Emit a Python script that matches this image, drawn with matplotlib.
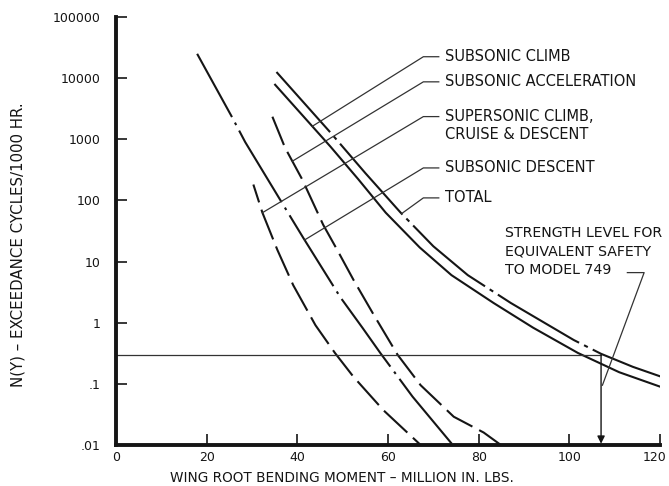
import matplotlib
matplotlib.use("Agg")
import matplotlib.pyplot as plt
import matplotlib.transforms as mtransforms
from matplotlib.ticker import NullLocator
import numpy as np

plt.rcParams['font.family'] = ['DejaVu Sans']
plt.rcParams['lines.scale_dashes'] = False

# ---------------- data ----------------
# Subsonic descent (dash-dot)
desc_x = [17.9, 25.6, 28.5, 38.9, 41.3, 49.5, 54.4, 58.3, 65.4, 74.3]
desc_y = [25000, 2300, 900, 48, 24.5, 2.6, 0.82, 0.32, 0.062, 0.01]

# Supersonic climb, cruise & descent (long dashes)
super_x = [30.3, 32.3, 35.6, 39.1, 44.0, 48.3, 52.4, 59.0, 67.2]
super_y = [182, 63, 15.5, 4.1, 0.91, 0.32, 0.13, 0.037, 0.01]

# Subsonic acceleration (dashes)
accel_x = [34.5, 37.3, 41.1, 45.7, 48.8, 52.4, 56.6, 62.1, 67.2, 74.5, 81.1, 84.9]
accel_y = [2340, 725, 219, 40, 15.5, 5.0, 1.45, 0.30, 0.095, 0.029, 0.016, 0.01]

# Subsonic climb (solid)
climb_x = [35.1, 47.3, 53.4, 59.5, 67.0, 74.0, 83.3, 92.0, 101.9, 111.0, 120.2]
climb_y = [7800, 760, 224, 63, 17, 6.0, 2.1, 0.83, 0.32, 0.155, 0.089]

# Total (solid with dash-dot breaks)
total_x = [35.4, 47.3, 55.0, 62.8, 70.0, 77.6, 87.1, 94.0, 101.0, 107.0, 114.0, 120.9]
total_y = [12600, 1290, 280, 63, 17.8, 6.0, 2.1, 1.05, 0.52, 0.31, 0.19, 0.126]

strength_level = 0.3
strength_x = 107

x_ticks = [0, 20, 40, 60, 80, 100, 120]
x_ticklabels = ["0", "20", "40", "60", "80", "100", "120"]
y_ticks = [0.01, 0.1, 1, 10, 100, 1000, 10000, 100000]
y_ticklabels = [".01", ".1", "1", "10", "100", "1000", "10000", "100000"]

# ---------------- figure ----------------
W, H = 669, 486
fig = plt.figure(figsize=(W / 100, H / 100), dpi=100)
ax = fig.add_axes([116 / W, 1 - 445 / H, (660 - 116) / W, (445 - 17) / H])
ax.set_yscale('log')
ax.set_xlim(0, 120)
ax.set_ylim(0.01, 100000)

ink = '#151515'
lw = 1.5

ax.plot(desc_x, desc_y, color=ink, lw=lw, ls=(8, (60, 4.5, 2, 4.5)), dash_capstyle='butt')
ax.plot(super_x, super_y, color=ink, lw=lw, ls=(9.5, (23, 5.5)), dash_capstyle='butt')
ax.plot(accel_x, accel_y, color=ink, lw=lw, ls=(0, (22, 5.5)), dash_capstyle='butt')
ax.plot(climb_x, climb_y, color=ink, lw=lw, ls='-')
ax.plot(total_x, total_y, color=ink, lw=lw, ls=(10, (68, 4, 3, 4)), dash_capstyle='butt')

# strength level line and arrow
ax.plot([0, strength_x], [strength_level, strength_level], color='#333333', lw=0.9)
ax.annotate('', xy=(strength_x, 0.0105), xytext=(strength_x, strength_level),
            arrowprops=dict(arrowstyle='-|>', lw=1.0, color=ink, mutation_scale=11,
                            shrinkA=0, shrinkB=0))

# ---------------- axes styling ----------------
for s in ['top', 'right']:
    ax.spines[s].set_visible(False)
for s in ['left', 'bottom']:
    ax.spines[s].set_linewidth(2.8)
    ax.spines[s].set_color(ink)

ax.set_xticks(x_ticks)
ax.set_xticklabels(x_ticklabels)
ax.set_yticks(y_ticks)
ax.set_yticklabels(y_ticklabels)
ax.yaxis.set_minor_locator(NullLocator())
ax.tick_params(axis='both', direction='in', length=8, width=1.2, colors=ink, labelsize=9)
ax.tick_params(axis='y', pad=11)
ax.tick_params(axis='x', pad=4)

# keep the last x tick label inside the picture
last = ax.get_xticklabels()[-1]
last.set_transform(last.get_transform() + mtransforms.ScaledTranslation(-5 / 100, 0, fig.dpi_scale_trans))

fig.text(342 / W, 1 - 478 / H, 'WING ROOT BENDING MOMENT \u2013 MILLION IN. LBS.',
         ha='center', va='center', fontsize=9.8, color=ink)
fig.text(18 / W, 1 - 245 / H, 'N(Y) \u2013 EXCEEDANCE CYCLES/1000 HR.',
         ha='center', va='center', rotation=90, fontsize=10.8, color=ink)

# ---------------- leader labels ----------------
def on_curve(xs, ys, x):
    return 10 ** np.interp(x, xs, np.log10(ys))

label_x = 72.5
corner_x0, corner_x1 = 67.8, 71.2
labels = [
    ('SUBSONIC CLIMB', 22400, 22400, climb_x, climb_y, 43.3),
    ('SUBSONIC ACCELERATION', 8700, 8700, accel_x, accel_y, 38.9),
    ('SUPERSONIC CLIMB,\nCRUISE & DESCENT', 1660, 2350, super_x, super_y, 32.3),
    ('SUBSONIC DESCENT', 340, 340, desc_x, desc_y, 41.6),
    ('TOTAL', 110, 110, total_x, total_y, 63.0),
]
for text, ty, ly, cx, cy, ex in labels:
    ax.text(label_x, ty, text, ha='left', va='center', fontsize=10.5, color=ink,
            linespacing=1.25)
    ey = on_curve(cx, cy, ex)
    ax.plot([corner_x1, corner_x0, ex], [ly, ly, ey], color='#333333', lw=0.9)

ax.text(85.8, 14.5, 'STRENGTH LEVEL FOR\nEQUIVALENT SAFETY\nTO MODEL 749',
        ha='left', va='center', fontsize=10.2, color=ink, linespacing=1.4)
ax.plot([112.8, 116.5, strength_x + 0.3], [6.6, 6.6, 0.095], color='#333333', lw=0.9)

fig.savefig('out.png', dpi=100, facecolor='white')
